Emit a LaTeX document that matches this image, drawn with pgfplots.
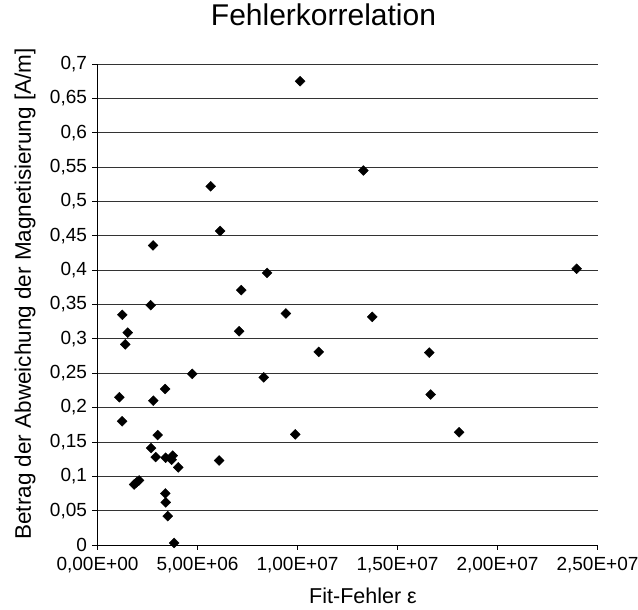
\documentclass[border=0pt]{standalone}
\usepackage{fontspec}
\setmainfont{Liberation Sans}
\usepackage{pgfplots}
\pgfplotsset{compat=1.18}

\begin{document}
\begin{tikzpicture}
  % page frame in reference pixels (1px = 1pt), axis corner at origin
  \useasboundingbox (-97.5pt,-65pt) rectangle (540.5pt,545pt);
  \begin{axis}[
    at={(0,0)}, anchor=south west,
    scale only axis,
    width=500pt, height=481pt,
    xmin=0, xmax=2.5e7,
    ymin=0, ymax=0.7,
    axis x line*=bottom,
    axis y line*=left,
    axis line style={black, line width=0.9pt},
    tick align=outside,
    major tick length=5pt,
    tick style={black, line width=0.8pt},
    scaled x ticks=false,
    xtick={0,5e6,1e7,1.5e7,2e7,2.5e7},
    xticklabels={{0,00E+00},{5,00E+06},{1,00E+07},{1,50E+07},{2,00E+07},{2,50E+07}},
    ytick={0,0.05,0.1,0.15,0.2,0.25,0.3,0.35,0.4,0.45,0.5,0.55,0.6,0.65,0.7},
    yticklabels={0,{0,05},{0,1},{0,15},{0,2},{0,25},{0,3},{0,35},{0,4},{0,45},{0,5},{0,55},{0,6},{0,65},{0,7}},
    ymajorgrids,
    major grid style={black!80, line width=0.8pt},
    tick label style={font=\fontsize{19}{21}\selectfont},
    yticklabel style={xshift=-2pt},
    xticklabel style={yshift=-4pt},
    title={Fehlerkorrelation},
    title style={at={(axis description cs:0.452,1)}, anchor=base, yshift=32pt,
      font=\fontsize{30}{34}\selectfont},
    xlabel={Fit-Fehler ε},
    xlabel style={at={(axis description cs:0.531,0)}, anchor=center, yshift=-51pt,
      font=\fontsize{21.5}{24}\selectfont},
    ylabel={Betrag der Abweichung der Magnetisierung [A/m]},
    ylabel style={at={(axis description cs:-0.145,0.522)}, anchor=center,
      font=\fontsize{22.5}{24}\selectfont},
  ]
    \addplot[only marks, mark=square*, mark size=3.5pt,
      mark options={rotate=45, fill=black, draw=black}] coordinates {
      (10.13e6,0.675) (13.29e6,0.545) (5.66e6,0.522) (6.13e6,0.457)
      (2.78e6,0.436) (23.96e6,0.402) (8.48e6,0.396) (7.19e6,0.371)
      (2.66e6,0.349) (1.24e6,0.335) (9.42e6,0.337) (13.74e6,0.332)
      (1.51e6,0.309) (7.08e6,0.311) (1.39e6,0.292) (11.06e6,0.281)
      (16.59e6,0.280) (4.74e6,0.249) (8.31e6,0.244) (3.38e6,0.227)
      (16.66e6,0.219) (1.09e6,0.215) (2.79e6,0.210) (1.23e6,0.180)
      (18.08e6,0.164) (9.89e6,0.161) (3.01e6,0.160) (2.68e6,0.141)
      (3.76e6,0.130) (2.91e6,0.128) (3.41e6,0.127) (3.71e6,0.124)
      (6.08e6,0.123) (4.04e6,0.113) (2.08e6,0.094) (1.95e6,0.091)
      (1.83e6,0.088) (3.39e6,0.075) (3.41e6,0.062) (3.51e6,0.042)
      (3.83e6,0.003)
    };
  \end{axis}
\end{tikzpicture}
\end{document}
